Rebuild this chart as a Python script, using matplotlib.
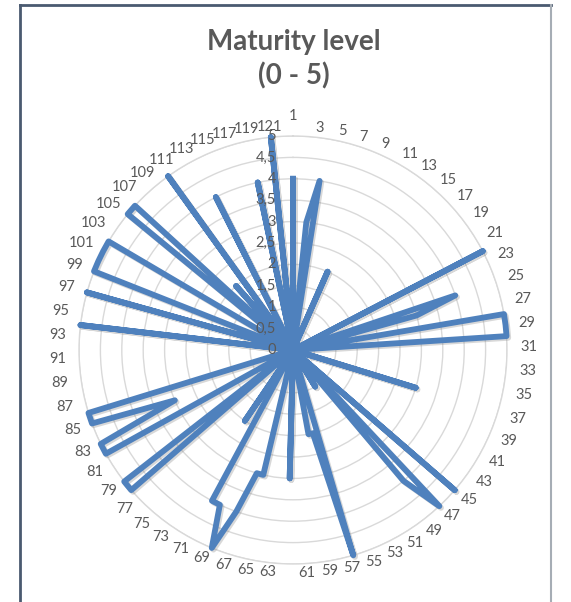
import numpy as np
import matplotlib
matplotlib.use("Agg")
import matplotlib.pyplot as plt
import matplotlib.patheffects as pe
import matplotlib.transforms as mtransforms
from matplotlib.lines import Line2D

plt.rcParams['font.family'] = ['Lato', 'DejaVu Sans']

# Maturity level per item (items 1..121), scale 0-5
items = list(range(1, 122))
maturity = [
    4, 0, 3, 4, 0, 0, 0, 0, 2, 0, 0,      # 1-11
    0, 0, 0, 0, 0, 0, 0, 0, 0, 0, 5,      # 12-22
    0, 0, 4, 3, 0, 5, 5, 5, 0, 0, 0,      # 23-33
    0, 0, 0, 3, 0, 0, 0, 0, 0, 0, 0,      # 34-44
    5, 0, 5, 4, 0, 0, 1, 0, 0, 0, 0,      # 45-55
    5, 2, 2, 0, 0, 0, 3, 0, 0, 0, 3,      # 56-66
    3, 4, 5, 4, 4, 0, 2, 0, 0, 0, 0,      # 67-77
    5, 5, 0, 0, 5, 5, 3, 5, 5, 0, 0,      # 78-88
    0, 0, 0, 0, 0, 5, 0, 0, 5, 0, 5,      # 89-99
    5, 5, 5, 0, 0, 5, 5, 0, 2, 0, 5,      # 100-110
    0, 0, 4, 0, 0, 0, 0, 4, 0, 5, 0,      # 111-121
]
value_ticks = [0, 0.5, 1, 1.5, 2, 2.5, 3, 3.5, 4, 4.5, 5]
value_labels = ['0', '0,5', '1', '1,5', '2', '2,5', '3', '3,5', '4', '4,5', '5']

title_color = '#595959'
label_color = '#595959'
line_color = '#4f81bd'
grid_color = '#d9d9d9'

W, H = 571, 602
fig = plt.figure(figsize=(W / 100, H / 100), dpi=100)
fig.patch.set_facecolor('white')

# chart centre and outer ring radius in pixels
cx, cy, R = 293, 350, 214
ax = fig.add_axes([(cx - R) / W, (H - cy - R) / H, 2 * R / W, 2 * R / H],
                  projection='polar')
ax.set_theta_zero_location('N')
ax.set_theta_direction(-1)
ax.set_ylim(0, 5)
ax.set_xticks([])
ax.set_yticks(value_ticks)
ax.set_yticklabels([])
ax.yaxis.grid(True, color=grid_color, linewidth=1)
ax.spines['polar'].set_color(grid_color)
ax.spines['polar'].set_linewidth(1)

n = len(items)
theta = 2 * np.pi * (np.array(items) - 1) / n
theta_c = np.append(theta, theta[0])
vals_c = np.append(np.array(maturity, dtype=float), maturity[0])

ax.plot(theta_c, vals_c, color=line_color, linewidth=4.2,
        solid_joinstyle='round', clip_on=False, zorder=5,
        path_effects=[pe.SimpleLineShadow(offset=(1.2, -1.2), shadow_color='#7f7f7f', alpha=0.3),
                      pe.Normal()])

# value axis labels to the left of the vertical axis
val_trans = mtransforms.offset_copy(ax.transData, fig=fig, x=-17, y=0, units='dots')
for v, lab in zip(value_ticks, value_labels):
    ax.text(0, v, lab, transform=val_trans, ha='right', va='center',
            fontsize=10.5, color=label_color, zorder=6)

# category labels: only odd items are shown
for k, th in zip(items, theta):
    if k % 2 == 0:
        continue
    s, c = np.sin(th), np.cos(th)
    if abs(s) < 0.01:
        ha, gap = 'center', 13
    else:
        ha = 'left' if s > 0 else 'right'
        gap = 2 + 11 * s ** 2
    dx = gap * s
    dy = gap * c + 7 * c
    tr = mtransforms.offset_copy(ax.transData, fig=fig, x=dx, y=dy, units='dots')
    ax.text(th, 5, str(k), transform=tr, ha=ha, va='center',
            fontsize=10.5, color=label_color, clip_on=False)

fig.text(294 / W, 1 - 42 / H, 'Maturity level', ha='center', va='center',
         fontsize=20, fontweight='bold', color=title_color)
fig.text(294 / W, 1 - 76 / H, '(0 - 5)', ha='center', va='center',
         fontsize=20, fontweight='bold', color=title_color)

# outer frame of the chart area
left, right, top = 20 / W, 551 / W, 1 - 5 / H
fig.add_artist(Line2D([left, left], [0, top], transform=fig.transFigure,
                      color='#4a5a70', linewidth=2))
fig.add_artist(Line2D([left, right], [top, top], transform=fig.transFigure,
                      color='#4a5a70', linewidth=2))
fig.add_artist(Line2D([right, right], [0, top], transform=fig.transFigure,
                      color='#a6adb5', linewidth=1.5))

fig.savefig('out.png', dpi=100)
